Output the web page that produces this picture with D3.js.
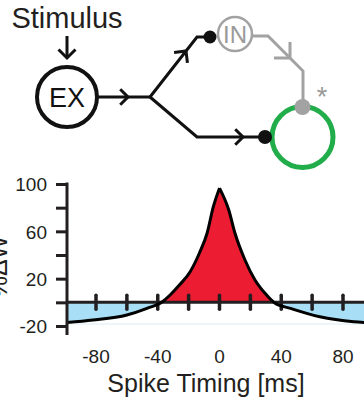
<!DOCTYPE html>
<html>
<head>
<meta charset="utf-8">
<script src="https://cdn.jsdelivr.net/npm/d3@7"></script>
<style>
  html, body { margin: 0; padding: 0; background: #fff; }
  svg { display: block; font-family: "Liberation Sans", Arial, sans-serif; }
</style>
</head>
<body>
<div id="chart"></div>
<script>
// STDP curve, values (spike timing in ms, weight change in %)
const timing = [-100, -82, -60, -47, -37, -32, -26, -19, -13, -8, -4, 0, 6, 10, 16.5, 23, 29.5, 36, 46, 65, 87, 100];
const dw = [-17.2, -15, -10.7, -5.1, 0.5, 6.2, 14.6, 25.9, 41.7, 58.6, 80.8, 96.5, 78, 58.6, 35.8, 18.9, 7.6, -0.8, -5.1, -12.2, -16.4, -17.4];

const xTicks = [-80, -60, -40, -20, 0, 20, 40, 60, 80];
const xLabels = [-80, -40, 0, 40, 80];
const yTicks = [100, 80, 60, 40, 20, 0, -20];
const yLabels = [100, 60, 20, -20];

const width = 364, height = 397;
const ink = "#231f20", grey = "#a2a2a2", green = "#20ad4a";
const red = "#ec1c32", blue = "#a9dff6";

const svg = d3.select("#chart").append("svg")
  .attr("width", width)
  .attr("height", height);

// ---------- circuit diagram ----------
const dia = svg.append("g")
  .attr("fill", "none")
  .attr("stroke-linecap", "butt")
  .attr("stroke-linejoin", "miter");

// open arrowhead pointing along ang
function chevron(tx, ty, ang, len, color, sw) {
  const a1 = ang + Math.PI - Math.PI / 4, a2 = ang + Math.PI + Math.PI / 4;
  const p = [[tx + len * Math.cos(a1), ty + len * Math.sin(a1)], [tx, ty], [tx + len * Math.cos(a2), ty + len * Math.sin(a2)]];
  dia.append("path").attr("d", d3.line()(p)).attr("stroke", color).attr("stroke-width", sw);
}

svg.append("text")
  .attr("x", 67).attr("y", 28)
  .attr("text-anchor", "middle")
  .attr("fill", ink)
  .style("font-size", "29px")
  .text("Stimulus");

dia.append("line").attr("x1", 67).attr("y1", 36).attr("x2", 67).attr("y2", 58)
  .attr("stroke", "#111").attr("stroke-width", 3);
chevron(67, 58, Math.PI / 2, 12, "#111", 3);

// EX neuron
dia.append("circle").attr("cx", 67).attr("cy", 97).attr("r", 30)
  .attr("stroke", "#111").attr("stroke-width", 4);
svg.append("text").attr("x", 67).attr("y", 106.5).attr("text-anchor", "middle")
  .attr("fill", "#111").style("font-size", "27px").text("EX");

// EX output + branches
dia.append("path").attr("d", "M97,97L150,97").attr("stroke", "#111").attr("stroke-width", 3);
chevron(128, 97, 0, 11, "#111", 3);
dia.append("path").attr("d", "M150,97L197,37L210,37").attr("stroke", "#111").attr("stroke-width", 3);
chevron(186, 51, Math.atan2(-60, 47), 12, "#111", 3);
dia.append("path").attr("d", "M150,97L197,137L265,137").attr("stroke", "#111").attr("stroke-width", 3);
chevron(243, 137, 0, 11, "#111", 3);

// IN neuron
dia.append("path").attr("d", "M253,36L268,36L303,71L303,107").attr("stroke", grey).attr("stroke-width", 3);
chevron(290, 58, Math.PI / 4, 16, grey, 3);
dia.append("circle").attr("cx", 235).attr("cy", 34).attr("r", 17)
  .attr("stroke", grey).attr("stroke-width", 2.5).attr("fill", "#fff");
svg.append("text").attr("x", 235).attr("y", 42.5).attr("text-anchor", "middle")
  .attr("fill", "#9a9a9a").style("font-size", "24px").text("IN");

// target neuron
dia.append("circle").attr("cx", 302.5).attr("cy", 137).attr("r", 30.5)
  .attr("stroke", green).attr("stroke-width", 5);
svg.append("circle").attr("cx", 210).attr("cy", 37).attr("r", 6.5).attr("fill", "#111");
svg.append("circle").attr("cx", 265).attr("cy", 137).attr("r", 7).attr("fill", "#111");
svg.append("circle").attr("cx", 302.5).attr("cy", 107).attr("r", 8).attr("fill", grey);
svg.append("text").attr("x", 322).attr("y", 106).attr("text-anchor", "middle")
  .attr("fill", "#9a9a9a").style("font-size", "27px").text("*");

// ---------- STDP plot ----------
const x = d3.scaleLinear().domain([-80, 80]).range([96, 343]);
const y = d3.scaleLinear().domain([-20, 100]).range([326, 184]);
const left = 67, right = width;

const defs = svg.append("defs");
defs.append("clipPath").attr("id", "pos").append("rect")
  .attr("x", left).attr("y", 150).attr("width", right - left).attr("height", y(0) - 150);
defs.append("clipPath").attr("id", "neg").append("rect")
  .attr("x", left).attr("y", y(0)).attr("width", right - left).attr("height", 40);
defs.append("clipPath").attr("id", "plot").append("rect")
  .attr("x", left).attr("y", 150).attr("width", right - left).attr("height", 200);

const pts = timing.map((t, i) => ({ t, w: dw[i] }));
const peak = d3.maxIndex(pts, d => d.w);
const branches = [pts.slice(0, peak + 1), pts.slice(peak)];

const area = d3.area().curve(d3.curveMonotoneX)
  .x(d => x(d.t)).y0(y(0)).y1(d => y(d.w));
const line = d3.line().curve(d3.curveMonotoneX)
  .x(d => x(d.t)).y(d => y(d.w));

const areaPath = branches.map(b => area(b)).join("");
const linePath = branches.map(b => line(b)).join("");

svg.append("path").attr("d", areaPath).attr("fill", blue).attr("clip-path", "url(#neg)");
svg.append("path").attr("d", areaPath).attr("fill", red).attr("clip-path", "url(#pos)");

// faint line under the blue fill
svg.append("line").attr("x1", left).attr("x2", right)
  .attr("y1", y(-18.3)).attr("y2", y(-18.3))
  .attr("stroke", "#dcedf7").attr("stroke-width", 1.2);

// zero line with ticks
svg.append("line").attr("x1", left).attr("x2", right)
  .attr("y1", y(0)).attr("y2", y(0))
  .attr("stroke", ink).attr("stroke-width", 3);
svg.append("g").selectAll("line")
  .data(xTicks)
  .enter().append("line")
  .attr("x1", d => x(d)).attr("x2", d => x(d))
  .attr("y1", y(0) - 7).attr("y2", y(0) + 7)
  .attr("stroke", ink).attr("stroke-width", 3.5)
  .attr("stroke-linecap", "round");

svg.append("path").attr("d", linePath)
  .attr("fill", "none").attr("stroke", "#000").attr("stroke-width", 3)
  .attr("stroke-linejoin", "round")
  .attr("clip-path", "url(#plot)");

// y axis
const yAxis = svg.append("g")
  .attr("transform", `translate(${left},0)`)
  .call(d3.axisLeft(y)
    .tickValues(yTicks)
    .tickSize(11)
    .tickSizeOuter(0)
    .tickPadding(9)
    .tickFormat(d => yLabels.includes(d) ? d : ""));
yAxis.select(".domain").remove();
yAxis.selectAll(".tick line").attr("stroke", ink).attr("stroke-width", 3);
yAxis.selectAll(".tick text")
  .attr("fill", ink)
  .attr("dy", "0.36em")
  .style("font-size", "19px")
  .style("font-family", "'Liberation Sans', Arial, sans-serif");
yAxis.append("line").attr("x1", 0).attr("x2", 0).attr("y1", 182.5).attr("y2", 335)
  .attr("stroke", ink).attr("stroke-width", 3);

// x labels
svg.append("g").selectAll("text")
  .data(xLabels)
  .enter().append("text")
  .attr("x", d => x(d)).attr("y", 363)
  .attr("text-anchor", "middle")
  .attr("fill", ink)
  .style("font-size", "19px")
  .text(d => d);

svg.append("text")
  .attr("x", 206).attr("y", 392)
  .attr("text-anchor", "middle")
  .attr("fill", ink)
  .style("font-size", "25px")
  .text("Spike Timing [ms]");

// y title is cut off at the left edge, as in the source figure
svg.append("text")
  .attr("transform", "translate(7,267) rotate(-90)")
  .attr("text-anchor", "middle")
  .attr("fill", ink)
  .style("font-size", "25px")
  .text("%ΔW");
</script>
</body>
</html>
